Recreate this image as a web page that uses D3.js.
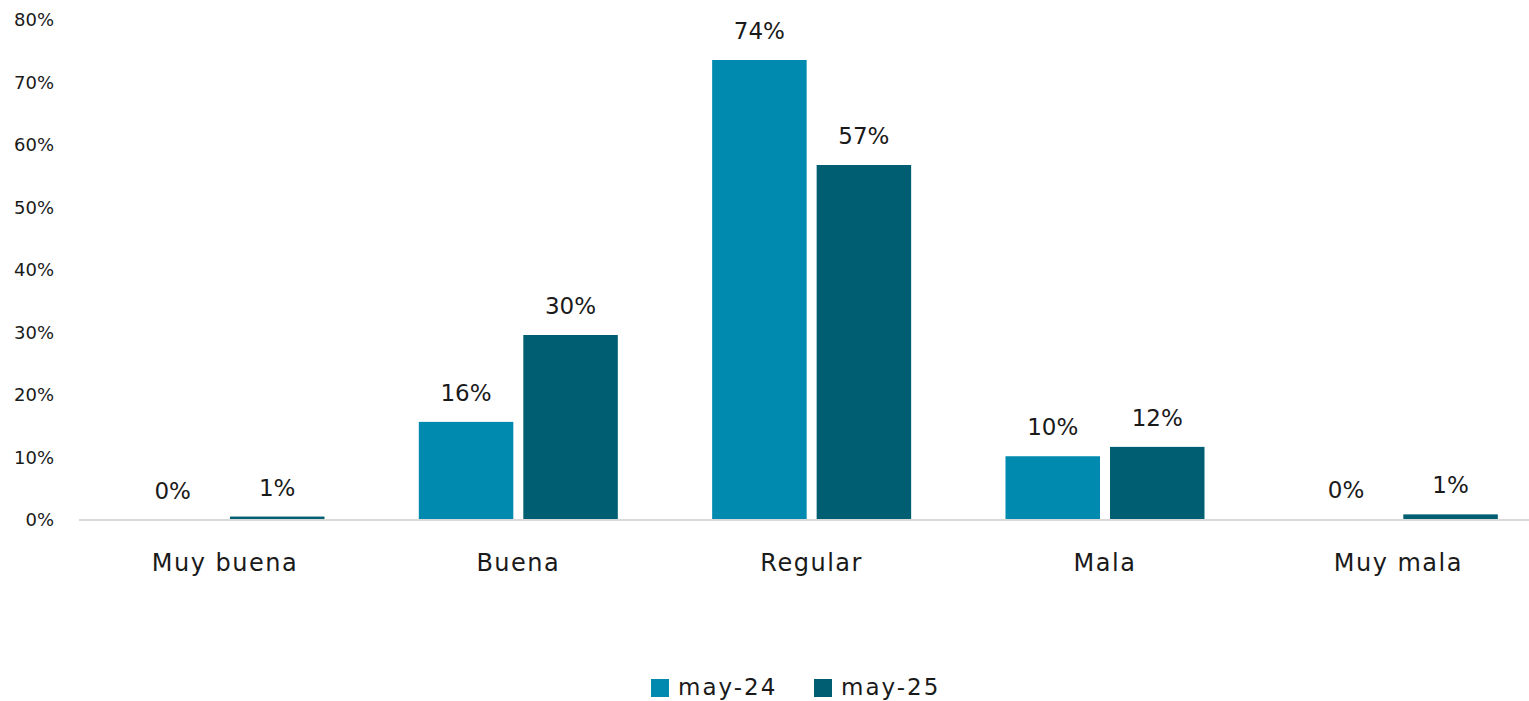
<!DOCTYPE html>
<html>
<head>
<meta charset="utf-8">
<script src="https://cdn.jsdelivr.net/npm/d3@7"></script>
<style>
  html, body { margin: 0; padding: 0; background: #fff; }
  svg { display: block; font-family: "DejaVu Sans", sans-serif; }
</style>
</head>
<body>
<svg id="chart" width="1529" height="701"></svg>
<script>
const categories = ["Muy buena", "Buena", "Regular", "Mala", "Muy mala"];
const seriesNames = ["may-24", "may-25"];
const may24 = [0, 15.7, 73.6, 10.2, 0.15];
const may25 = [0.55, 29.6, 56.8, 11.7, 0.9];
const labels24 = ["0%", "16%", "74%", "10%", "0%"];
const labels25 = ["1%", "30%", "57%", "12%", "1%"];
const yTicks = [0, 10, 20, 30, 40, 50, 60, 70, 80];
const colors = ["#008AAF", "#005E73"];

const svg = d3.select("#chart");
const W = 1529, H = 701;
const FONT = "'DejaVu Sans', sans-serif";

const x0 = d3.scaleBand().domain(categories).range([78.3, 1545]).paddingInner(0).paddingOuter(0);
const x1 = d3.scaleBand().domain(seriesNames).range([0, 199]).paddingInner(10 / 104.5).paddingOuter(0);
const y = d3.scaleLinear().domain([0, 80]).range([520, 20]);

const seriesValues = [may24, may25];
const seriesLabels = [labels24, labels25];
const rows = [];
categories.forEach((c, i) => {
  seriesNames.forEach((s, j) => {
    rows.push({cat: c, ser: s, v: seriesValues[j][i], lab: seriesLabels[j][i], j});
  });
});

// y axis labels
const yAxis = d3.axisLeft(y).tickValues(yTicks).tickFormat(d => d + "%").tickSize(0).tickPadding(0);
const gy = svg.append("g").attr("transform", "translate(54,0)").call(yAxis);
gy.select(".domain").remove();
gy.selectAll("text").attr("font-size", 18).attr("fill", "#1a1a1a")
  .attr("font-family", FONT);

// bars
const off = (x0.bandwidth() - 199) / 2;
svg.append("g").selectAll("rect").data(rows).join("rect")
  .attr("x", d => x0(d.cat) + off + x1(d.ser))
  .attr("width", x1.bandwidth())
  .attr("y", d => y(d.v))
  .attr("height", d => y(0) - y(d.v))
  .attr("fill", d => colors[d.j]);

// baseline axis
const xAxis = d3.axisBottom(x0).tickSize(0).tickPadding(0);
const gx = svg.append("g").attr("transform", `translate(0,${y(0)})`).call(xAxis);
gx.select(".domain").attr("stroke", "#d9d9d9").attr("stroke-width", 2)
  .attr("d", `M79,0H${W}`);
gx.selectAll("text").attr("font-size", 24).attr("fill", "#1a1a1a")
  .attr("dy", 0).attr("y", 51).attr("letter-spacing", 1.5)
  .attr("font-family", FONT);

// data labels
svg.append("g").selectAll("text").data(rows).join("text")
  .attr("x", d => x0(d.cat) + off + x1(d.ser) + x1.bandwidth() / 2)
  .attr("y", d => y(d.v) - 21)
  .attr("text-anchor", "middle")
  .attr("font-size", 23)
  .attr("fill", "#1a1a1a")
  .text(d => d.lab);

// legend
const legendX = [651, 814];
const lg = svg.append("g");
seriesNames.forEach((s, j) => {
  lg.append("rect").attr("x", legendX[j]).attr("y", 679).attr("width", 18).attr("height", 18).attr("fill", colors[j]);
  lg.append("text").attr("x", legendX[j] + 27).attr("y", 695).attr("font-size", 23)
    .attr("letter-spacing", 2).attr("fill", "#1a1a1a").text(s);
});
</script>
</body>
</html>
